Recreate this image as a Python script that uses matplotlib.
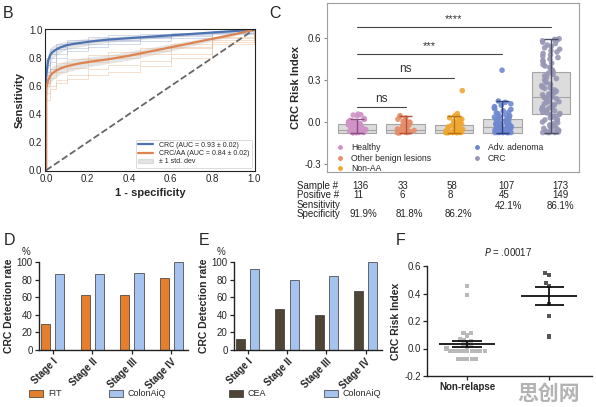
import numpy as np
import pandas as pd
import matplotlib
matplotlib.use('Agg')
import matplotlib.pyplot as plt
import seaborn as sns
from matplotlib.patches import Patch
from matplotlib.lines import Line2D

W, H = 596, 407


def fx(x):
    return x / W


def fy(y):
    return 1 - y / H


def box(l, t, r, b):
    return [l / W, 1 - b / H, (r - l) / W, (b - t) / H]


# ---------------- data ----------------
# B: ROC curves
roc_fpr = [0, 0, 0.01, 0.02, 0.03, 0.05, 0.07, 0.1, 0.15, 0.2, 0.25, 0.3, 0.4, 0.5, 0.6, 0.7, 0.8, 0.9, 1.0]
crc_tpr = [0, 0.66, 0.78, 0.82, 0.84, 0.86, 0.875, 0.89, 0.903, 0.913, 0.922, 0.93, 0.94, 0.95, 0.96, 0.97, 0.98, 0.99, 1.0]
crc_std = [0, 0.07, 0.06, 0.05, 0.045, 0.04, 0.035, 0.03, 0.028, 0.025, 0.022, 0.02, 0.018, 0.015, 0.013, 0.01, 0.008, 0.005, 0]
aa_tpr = [0, 0.58, 0.64, 0.67, 0.69, 0.71, 0.725, 0.74, 0.757, 0.77, 0.78, 0.79, 0.815, 0.845, 0.875, 0.905, 0.935, 0.965, 1.0]
aa_std = [0, 0.07, 0.06, 0.055, 0.05, 0.045, 0.04, 0.04, 0.038, 0.035, 0.033, 0.03, 0.03, 0.028, 0.025, 0.02, 0.015, 0.01, 0]

fold_fpr = [0, 0, 0.02, 0.05, 0.1, 0.2, 0.3, 0.45, 0.6, 0.8, 1.0]
crc_folds = [
    [0, 0.70, 0.80, 0.86, 0.90, 0.92, 0.93, 0.95, 0.96, 0.98, 1.0],
    [0, 0.62, 0.72, 0.80, 0.85, 0.88, 0.90, 0.92, 0.94, 0.97, 1.0],
    [0, 0.80, 0.86, 0.90, 0.93, 0.95, 0.96, 0.97, 0.98, 0.99, 1.0],
    [0, 0.75, 0.83, 0.88, 0.91, 0.93, 0.94, 0.95, 0.97, 0.985, 1.0],
    [0, 0.68, 0.77, 0.83, 0.87, 0.90, 0.92, 0.94, 0.955, 0.975, 1.0],
]
aa_folds = [
    [0, 0.60, 0.66, 0.70, 0.73, 0.77, 0.80, 0.83, 0.87, 0.93, 1.0],
    [0, 0.55, 0.60, 0.64, 0.68, 0.72, 0.75, 0.78, 0.83, 0.91, 1.0],
    [0, 0.65, 0.72, 0.76, 0.79, 0.82, 0.84, 0.87, 0.90, 0.95, 1.0],
    [0, 0.50, 0.58, 0.62, 0.65, 0.68, 0.70, 0.74, 0.80, 0.90, 1.0],
    [0, 0.62, 0.70, 0.74, 0.76, 0.79, 0.82, 0.85, 0.88, 0.94, 1.0],
]

# C: risk index by group
groups = ['Healthy', 'Other benign lesions', 'Non-AA', 'Adv. adenoma', 'CRC']
healthy = [0.057, 0.052, 0.05, 0.045, 0.024, 0.018, 0.012, 0.008, 0.004, 0.0, -0.003, -0.006,
           -0.01, -0.012, -0.015, -0.018, -0.02, -0.022, -0.025, -0.028, -0.03, -0.033, -0.035,
           -0.038, -0.04, -0.042, -0.045, -0.048, -0.05, -0.052, -0.055, -0.057, -0.06, -0.062,
           -0.064, -0.066, -0.068, -0.07, -0.071, -0.072, -0.073, -0.074, -0.075, -0.075,
           -0.075, -0.075, -0.075, -0.075, -0.075, -0.075]
benign = [0.045, 0.04, 0.03, 0.02, 0.01, 0.005, 0.0, -0.005, -0.01, -0.015, -0.02, -0.025,
          -0.03, -0.035, -0.04, -0.045, -0.05, -0.055, -0.06, -0.062, -0.065, -0.068, -0.07,
          -0.072, -0.074, -0.075, -0.075, -0.075, -0.075, -0.075, -0.075, -0.075, -0.075]
non_aa = [0.224, 0.06, 0.045, 0.04, 0.03, 0.02, 0.015, 0.01, 0.005, 0.0, -0.005, -0.01, -0.015,
          -0.02, -0.025, -0.03, -0.035, -0.04, -0.045, -0.05, -0.052, -0.055, -0.058, -0.06,
          -0.063, -0.065, -0.068, -0.07, -0.072, -0.074, -0.075, -0.075, -0.075, -0.075,
          -0.075, -0.075, -0.075, -0.075, -0.075, -0.075]
adv_adenoma = [0.37, 0.15, 0.14, 0.13, 0.12, 0.11, 0.1, 0.095, 0.09, 0.08, 0.07, 0.065, 0.06,
               0.05, 0.045, 0.04, 0.035, 0.03, 0.025, 0.02, 0.015, 0.01, 0.005, 0.0, -0.005,
               -0.01, -0.012, -0.015, -0.018, -0.02, -0.022, -0.025, -0.028, -0.03, -0.033,
               -0.035, -0.038, -0.04, -0.042, -0.045, -0.048, -0.05, -0.052, -0.055, -0.058,
               -0.06, -0.062, -0.065, -0.067, -0.07, -0.072, -0.074, -0.075, -0.075, -0.075,
               -0.075, -0.075, -0.075, -0.075, -0.075]
crc = [0.595, 0.59, 0.585, 0.58, 0.57, 0.56, 0.55, 0.54, 0.53, 0.52, 0.51, 0.5, 0.49, 0.48,
       0.47, 0.46, 0.45, 0.44, 0.43, 0.42, 0.41, 0.4, 0.39, 0.38, 0.37, 0.36, 0.35, 0.34, 0.33,
       0.32, 0.31, 0.3, 0.29, 0.28, 0.27, 0.26, 0.25, 0.245, 0.24, 0.23, 0.22, 0.215, 0.21,
       0.2, 0.195, 0.19, 0.185, 0.18, 0.175, 0.17, 0.165, 0.16, 0.15, 0.145, 0.14, 0.13,
       0.125, 0.12, 0.11, 0.105, 0.1, 0.09, 0.085, 0.08, 0.07, 0.065, 0.06, 0.055, 0.05,
       0.04, 0.035, 0.03, 0.02, 0.015, 0.01, 0.0, -0.005, -0.01, -0.02, -0.025, -0.03, -0.04,
       -0.045, -0.05, -0.055, -0.06, -0.065, -0.07, -0.072, -0.075, -0.075, -0.075, -0.075]
group_vals = [healthy, benign, non_aa, adv_adenoma, crc]
box_q1 = [-0.08, -0.08, -0.08, -0.08, 0.055]
box_med = [-0.06, -0.06, -0.06, -0.033, 0.18]
box_q3 = [-0.012, -0.015, -0.02, 0.022, 0.36]
whisk_lo = [-0.075, -0.075, -0.075, -0.075, -0.075]
whisk_hi = [0.024, 0.045, 0.045, 0.15, 0.595]
point_colors = ['#cf93c6', '#e58e6c', '#f0a833', '#6f88d0', '#9797b5']
line_colors = ['#8d4e84', '#b4553a', '#b87412', '#2f4183', '#4e4e68']

sig_end = [1, 2, 3, 4]
sig_y = [0.105, 0.315, 0.488, 0.68]
sig_text = ['ns', 'ns', '***', '****']

table_rows = ['Sample #', 'Positive #', 'Sensitivity', 'Specificity']
samples = ['136', '33', '58', '107', '173']
positives = ['11', '6', '8', '45', '149']
sensitivity = ['42.1%', '86.1%']
specificity = ['91.9%', '81.8%', '86.2%']

# D/E: detection rate by stage
stages = ['Stage I', 'Stage II', 'Stage III', 'Stage IV']
fit_rate = [29, 62, 63, 82]
colonaiq_d = [86, 86, 87, 100]
cea_rate = [12, 47, 40, 67]
colonaiq_e = [92, 80, 84, 100]

# F: relapse
nonrelapse = [0.453, 0.39, 0.114, 0.095, 0.111, 0.065, 0.06, 0.055, 0.04, 0.03, 0.02, 0.01,
              0.0, -0.02, -0.02, -0.02, -0.02, -0.02, -0.02, -0.02, -0.02, -0.02,
              -0.075, -0.075, -0.075, -0.075, -0.075]
relapse = [0.548, 0.536, 0.477, 0.455, 0.322, 0.235, 0.087]

# ---------------- figure ----------------
sns.set_style('white')
plt.rcParams['font.family'] = ['Liberation Sans', 'DejaVu Sans']
fig = plt.figure(figsize=(W / 100, H / 100), dpi=100)

# ---- B ----
axB = fig.add_axes(box(45, 29, 255, 171))
c_blue, c_orange = '#4C72B0', '#DD8452'
for f in crc_folds:
    axB.plot(fold_fpr, f, drawstyle='steps-post', color='#8fa3cf', lw=0.6, alpha=0.45)
for f in aa_folds:
    axB.plot(fold_fpr, f, drawstyle='steps-post', color='#e8b58c', lw=0.6, alpha=0.5)
crc_lo = np.array(crc_tpr) - np.array(crc_std)
crc_hi = np.array(crc_tpr) + np.array(crc_std)
aa_lo = np.array(aa_tpr) - np.array(aa_std)
aa_hi = np.array(aa_tpr) + np.array(aa_std)
axB.fill_between(roc_fpr, crc_lo, np.minimum(crc_hi, 1), color='grey', alpha=0.2, lw=0)
axB.fill_between(roc_fpr, aa_lo, np.minimum(aa_hi, 1), color='grey', alpha=0.2, lw=0)
axB.plot(roc_fpr, crc_tpr, color=c_blue, lw=1.6, label='CRC (AUC = 0.93 ± 0.02)')
axB.plot(roc_fpr, aa_tpr, color=c_orange, lw=1.6, label='CRC/AA (AUC = 0.84 ± 0.02)')
axB.fill_between([], [], [], color='grey', alpha=0.2, label='± 1 std. dev')
axB.plot([0, 1], [0, 1], ls='--', color='#666666', lw=1.3)
axB.set_xlim(-0.005, 1.005)
axB.set_ylim(-0.005, 1.005)
axB.set_xticks(np.arange(0, 1.01, 0.2))
axB.set_yticks(np.arange(0, 1.01, 0.2))
axB.tick_params(labelsize=7, length=0, pad=2)
for s in axB.spines.values():
    s.set_color('#222222')
    s.set_linewidth(0.8)
axB.set_xlabel('1 - specificity', fontsize=8, fontweight='bold', labelpad=3)
axB.set_ylabel('Sensitivity', fontsize=8, fontweight='bold', labelpad=3)
lg = axB.legend(loc='lower right', fontsize=5, frameon=True, handlelength=2.2,
                borderpad=0.3, labelspacing=0.2, bbox_to_anchor=(1.0, 0.0))
lg.get_frame().set_edgecolor('#cccccc')
lg.get_frame().set_linewidth(0.6)

# ---- C ----
axC = fig.add_axes(box(327, 3, 579, 172))
stats = []
for i in range(5):
    stats.append(dict(med=box_med[i], q1=box_q1[i], q3=box_q3[i],
                      whislo=box_q1[i], whishi=box_q3[i], fliers=[]))
axC.bxp(stats, positions=range(5), widths=0.8, patch_artist=True, showcaps=False,
        showfliers=False,
        boxprops=dict(facecolor='#dcdcdc', edgecolor='#a5a5a5', lw=0.8, zorder=1),
        medianprops=dict(color='#a5a5a5', lw=0.8, zorder=1),
        whiskerprops=dict(lw=0))
df = pd.DataFrame({
    'group': [g for g, v in zip(groups, group_vals) for _ in v],
    'val': [x for v in group_vals for x in v],
})
np.random.seed(3)
sns.stripplot(data=df, x='group', y='val', hue='group', order=groups, hue_order=groups,
              palette=point_colors, jitter=0.19, size=4.0, ax=axC, legend=False,
              native_scale=False, zorder=2, alpha=0.9)
for i in range(5):
    axC.vlines(i, whisk_lo[i], whisk_hi[i], color=line_colors[i], lw=1.0, zorder=3)
    axC.hlines([whisk_lo[i], whisk_hi[i]], i - 0.14, i + 0.14, color=line_colors[i], lw=1.0, zorder=3)
for e, y, t in zip(sig_end, sig_y, sig_text):
    axC.plot([0, e], [y, y], color='#444444', lw=0.8)
    axC.text(e / 2, y + 0.02, t, ha='center', va='bottom', fontsize=8.5 if t == 'ns' else 8,
             color='#333333')
axC.set_xlim(-0.62, 4.58)
axC.set_ylim(-0.357, 0.85)
axC.set_xticks([])
axC.set_yticks([-0.3, 0.0, 0.3, 0.6])
axC.set_yticklabels(['-0.3', '0.0', '0.3', '0.6'])
axC.tick_params(axis='y', labelsize=7, length=2, color='#888888', left=True, pad=2)
axC.set_xlabel('')
axC.set_ylabel('CRC Risk Index', fontsize=8, fontweight='bold', labelpad=3)
for s in axC.spines.values():
    s.set_color('#a0a0a0')
    s.set_linewidth(0.8)
handles = [Line2D([], [], ls='', marker='o', ms=2.5, color=c) for c in point_colors]
axC.legend(handles=handles, labels=groups, ncol=2, loc='upper left', frameon=False,
           fontsize=6.2, handletextpad=0.3, labelspacing=0.15, columnspacing=4.3, borderpad=0,
           bbox_to_anchor=(fx(327), fy(139)), bbox_transform=fig.transFigure)

# table under C
row_y = [186, 195, 205, 214]
for lab, y in zip(table_rows, row_y):
    fig.text(fx(297), fy(y), lab, fontsize=7, va='center', ha='left', color='#222222')
for t, x in zip(samples, [352, 398, 447, 498, 552]):
    fig.text(fx(x), fy(row_y[0]), t, fontsize=7, va='center', ha='left', color='#222222')
for t, x in zip(positives, [353, 399, 448, 499, 552]):
    fig.text(fx(x), fy(row_y[1]), t, fontsize=7, va='center', ha='left', color='#222222')
for t, x in zip(sensitivity, [495, 547]):
    fig.text(fx(x), fy(row_y[2] + 1), t, fontsize=7, va='center', ha='left', color='#222222')
for t, x in zip(specificity, [349, 396, 445]):
    fig.text(fx(x), fy(row_y[3]), t, fontsize=7, va='center', ha='left', color='#222222')


# ---- D / E ----
def prism_axes(ax):
    sns.despine(ax=ax)
    for s in ['left', 'bottom']:
        ax.spines[s].set_color('#222222')
        ax.spines[s].set_linewidth(1.0)
    ax.tick_params(axis='both', direction='out', length=3, width=0.9, color='#222222',
                   labelsize=7, pad=1.5, bottom=True, left=True)


def stage_bars(ax, left_vals, left_color, right_vals):
    x = np.arange(len(stages))
    ax.bar(x - 0.18, left_vals, width=0.23, color=left_color, edgecolor='#333333', lw=0.5)
    ax.bar(x + 0.18, right_vals, width=0.23, color='#a6c3ef', edgecolor='#333333', lw=0.5)
    ax.set_xlim(-0.35, 3.42)
    ax.set_ylim(0, 100)
    ax.set_yticks([0, 20, 40, 60, 80, 100])
    ax.set_xticks(x)
    ax.set_xticklabels(stages, rotation=45, ha='right', rotation_mode='anchor',
                       fontweight='bold', fontsize=7)
    ax.set_ylabel('CRC Detection rate', fontsize=7.5, fontweight='bold', labelpad=2)
    prism_axes(ax)


axD = fig.add_axes(box(39, 262, 188, 350))
stage_bars(axD, fit_rate, '#e57f2d', colonaiq_d)
axE = fig.add_axes(box(234, 262, 382, 350))
stage_bars(axE, cea_rate, '#4f4537', colonaiq_e)
fig.text(fx(22), fy(252), '%', fontsize=7, ha='left', va='center')
fig.text(fx(217), fy(252), '%', fontsize=7, ha='left', va='center')

for lab, col, x in [('FIT', '#e57f2d', 29), ('ColonAiQ', '#a6c3ef', 109),
                    ('CEA', '#4f4537', 229), ('ColonAiQ', '#a6c3ef', 324)]:
    fig.legend(handles=[Patch(facecolor=col, edgecolor='#333333', lw=0.5)], labels=[lab],
               loc='center left', bbox_to_anchor=(fx(x), fy(394)), frameon=False,
               fontsize=6.5, handlelength=1.5, handleheight=0.7, handletextpad=0.6,
               borderpad=0, borderaxespad=0)

# ---- F ----
axF = fig.add_axes(box(427, 266, 592, 376))
dfF = pd.DataFrame({'group': ['Non-relapse'] * len(nonrelapse) + ['Relapse'] * len(relapse),
                    'val': nonrelapse + relapse})
sns.swarmplot(data=dfF, x='group', y='val', hue='group', order=['Non-relapse', 'Relapse'],
              palette={'Non-relapse': '#b9b9b9', 'Relapse': '#555555'}, marker='s', size=3.0,
              ax=axF, legend=False)
for i, v in enumerate([nonrelapse, relapse]):
    m = np.mean(v)
    sem = np.std(v, ddof=1) / np.sqrt(len(v))
    axF.hlines(m, i - 0.34, i + 0.34, color='#111111', lw=1.3, zorder=4)
    axF.hlines([m - sem, m + sem], i - 0.18, i + 0.18, color='#111111', lw=1.3, zorder=4)
    axF.vlines(i, m - sem, m + sem, color='#111111', lw=1.3, zorder=4)
axF.plot([0, 1], [0.625, 0.625], color='#111111', lw=1.2)
axF.text(0.5, 0.66, r'$\it{P}$ = .00017', ha='center', va='bottom', fontsize=7)
axF.set_xlim(-0.49, 1.52)
axF.set_ylim(-0.2, 0.6)
axF.set_yticks([-0.2, 0.0, 0.2, 0.4, 0.6])
axF.set_yticklabels(['-0.2', '0.0', '0.2', '0.4', '0.6'])
axF.set_xlabel('')
axF.set_ylabel('CRC Risk Index', fontsize=7.5, fontweight='bold', labelpad=2)
axF.set_xticks([0, 1])
# second category label is hidden under the watermark in the source
axF.set_xticklabels(['Non-relapse', ''], fontweight='bold', fontsize=6.5)
prism_axes(axF)
for c in axF.collections:
    c.set_clip_on(False)

# panel letters
for lab, x, y in [('B', 3, 13), ('C', 269, 13), ('D', 4, 241), ('E', 199, 241), ('F', 396, 241)]:
    fig.text(fx(x), fy(y), lab, fontsize=11.5, ha='left', va='center')

# watermark
fig.text(fx(549), fy(393), '思创网', fontsize=15, fontweight='bold', color='#b3b3b3',
         ha='center', va='center', family=['Noto Sans CJK SC', 'DejaVu Sans'])

fig.savefig('out.png', dpi=100)
